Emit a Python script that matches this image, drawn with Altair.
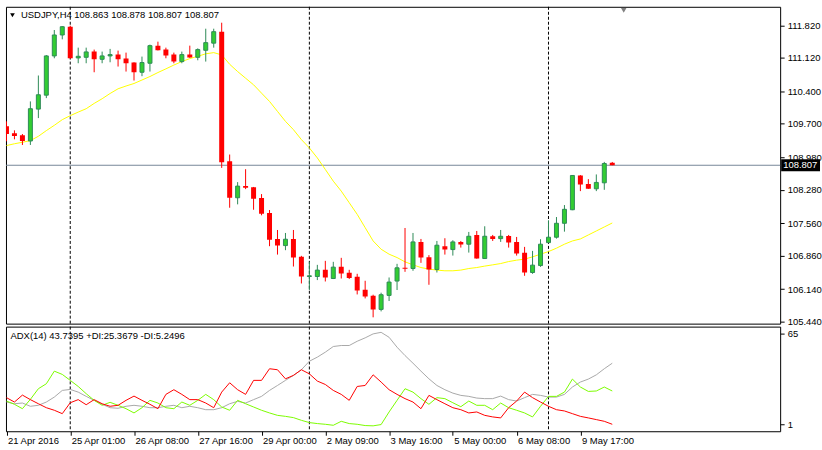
import altair as alt
import pandas as pd

# ---------------- data ----------------
bar_index = list(range(77))

opens = [109.645, 109.495, 109.452, 109.330, 110.016, 110.317, 111.162, 111.613, 111.791, 111.119,
         111.132, 111.255, 111.089, 111.162, 111.190, 111.104, 111.019, 110.810, 111.004, 111.383,
         111.298, 111.190, 111.040, 111.190, 111.132, 111.283, 111.437, 111.684, 108.894, 108.107,
         108.358, 108.336, 108.100, 107.778, 107.220, 107.077, 107.220, 106.834, 106.411, 106.411,
         106.555, 106.368, 106.619, 106.491, 106.405, 106.126, 105.997, 105.703, 106.004, 106.313,
         106.598, 106.583, 107.156, 106.828, 106.562, 107.064, 106.991, 107.156, 107.107, 107.306,
         106.798, 107.278, 107.227, 107.285, 107.156, 106.920, 106.497, 106.647, 107.141, 107.257,
         107.557, 107.849, 108.587, 108.401, 108.300, 108.429, 108.863]
highs = [109.753, 109.559, 109.480, 110.182, 110.740, 111.180, 111.720, 111.802, 111.813, 111.340,
         111.340, 111.298, 111.255, 111.313, 111.276, 111.233, 111.025, 111.147, 111.405, 111.469,
         111.340, 111.233, 111.255, 111.383, 111.325, 111.748, 111.748, 111.877, 109.038, 108.444,
         108.722, 108.340, 108.186, 107.843, 107.413, 107.349, 107.413, 106.856, 106.727, 106.662,
         106.748, 106.727, 106.813, 106.555, 106.469, 106.319, 106.019, 106.062, 106.390, 106.684,
         107.456, 107.349, 107.220, 106.871, 107.177, 107.235, 107.192, 107.177, 107.371, 107.392,
         107.493, 107.306, 107.413, 107.306, 107.263, 107.049, 106.963, 107.214, 107.622, 107.692,
         107.950, 108.595, 108.595, 108.508, 108.609, 108.879, 108.878]
lows = [109.323, 109.366, 109.244, 109.244, 109.823, 110.253, 111.111, 111.519, 111.104, 111.004,
        111.004, 110.810, 111.004, 111.025, 110.933, 110.825, 110.632, 110.725, 110.825, 111.280,
        111.111, 111.004, 111.004, 111.120, 111.068, 111.040, 111.340, 108.750, 107.892, 107.965,
        108.293, 107.849, 107.729, 107.064, 106.883, 106.978, 106.626, 106.261, 106.120, 106.334,
        106.304, 106.356, 106.368, 106.356, 106.025, 105.939, 105.532, 105.660, 105.883, 106.120,
        106.512, 106.534, 106.705, 106.233, 106.497, 106.883, 106.862, 107.034, 106.926, 106.795,
        106.795, 107.177, 107.156, 107.034, 106.862, 106.426, 106.469, 106.619, 107.138, 107.227,
        107.377, 107.840, 108.250, 108.298, 108.250, 108.278, 108.807]
closes = [109.480, 109.437, 109.330, 110.025, 110.325, 111.162, 111.613, 111.791, 111.111, 111.154,
          111.248, 111.089, 111.162, 111.190, 111.089, 111.004, 110.810, 111.019, 111.383, 111.283,
          111.169, 111.040, 111.190, 111.126, 111.298, 111.448, 111.684, 108.873, 108.107, 108.358,
          108.321, 108.085, 107.763, 107.205, 107.077, 107.214, 106.819, 106.411, 106.426, 106.549,
          106.390, 106.613, 106.476, 106.377, 106.111, 105.982, 105.703, 106.019, 106.291, 106.598,
          106.577, 107.156, 106.819, 106.562, 107.085, 106.991, 107.156, 107.098, 107.278, 106.798,
          107.278, 107.220, 107.278, 107.141, 106.905, 106.497, 106.656, 107.107, 107.257, 107.557,
          107.858, 108.587, 108.394, 108.300, 108.437, 108.845, 108.807]
ma_values = [109.231, 109.270, 109.302, 109.338, 109.431, 109.553, 109.667, 109.789, 109.875, 109.952,
             110.025, 110.139, 110.240, 110.353, 110.454, 110.514, 110.568, 110.643, 110.718, 110.804,
             110.883, 110.965, 111.040, 111.104, 111.154, 111.207, 111.233, 111.184, 110.982, 110.825,
             110.682, 110.540, 110.360, 110.182, 109.967, 109.753, 109.574, 109.360, 109.180, 108.965,
             108.716, 108.465, 108.250, 108.000, 107.750, 107.463, 107.177, 106.999, 106.892, 106.819,
             106.727, 106.662, 106.604, 106.570, 106.549, 106.534, 106.534, 106.549, 106.583, 106.604,
             106.635, 106.662, 106.690, 106.733, 106.763, 106.785, 106.834, 106.892, 106.948, 107.021,
             107.107, 107.177, 107.220, 107.306, 107.392, 107.478, 107.564]
adx = [16.9, 15.7, 16.2, 13.9, 14.6, 16.9, 20.4, 25.1, 25.8, 23.9,
       20.9, 18.1, 15.3, 12.9, 12.5, 13.9, 14.6, 13.9, 12.9, 12.9,
       13.9, 14.6, 12.9, 13.9, 12.9, 11.5, 11.5, 12.9, 15.7, 17.4,
       16.2, 18.6, 20.9, 25.1, 28.6, 32.2, 35.7, 39.7, 45.7, 48.6,
       52.1, 56.1, 56.8, 56.8, 59.8, 62.2, 65.0, 66.1, 62.6, 55.6,
       49.7, 44.3, 38.7, 33.3, 28.6, 25.6, 23.2, 21.6, 20.9, 19.7,
       19.3, 19.3, 21.1, 18.6, 17.6, 20.0, 22.3, 21.6, 20.4, 20.4,
       22.3, 27.5, 31.0, 33.1, 36.1, 40.4, 44.3]
plus_di = [17.6, 15.3, 12.2, 18.8, 26.3, 29.8, 38.7, 36.4, 32.2, 27.9,
           22.8, 18.1, 14.6, 16.7, 14.6, 12.2, 9.2, 12.9, 18.1, 16.2,
           12.9, 12.2, 16.9, 14.6, 18.1, 22.3, 18.6, 13.4, 11.1, 18.1,
           15.7, 13.4, 11.1, 9.2, 7.5, 6.8, 5.9, 4.0, 2.4, 1.7,
           1.2, 0.5, 3.3, 1.7, 1.2, 0.3, 0.1, 1.0, 9.9, 18.1,
           26.3, 23.9, 19.3, 15.3, 20.0, 19.3, 16.4, 13.6, 17.6, 14.6,
           14.6, 11.5, 16.2, 12.9, 11.1, 9.2, 6.4, 13.9, 20.9, 20.9,
           23.9, 33.1, 27.5, 24.4, 24.7, 27.5, 24.7]
minus_di = [20.0, 16.9, 21.8, 18.6, 15.7, 12.9, 11.1, 8.7, 16.4, 18.6,
            15.0, 18.6, 15.7, 13.9, 14.6, 18.1, 21.1, 18.1, 15.3, 12.2,
            22.3, 25.6, 22.3, 18.6, 18.6, 16.2, 12.9, 23.9, 30.5, 25.6,
            22.3, 32.2, 32.2, 40.4, 39.7, 33.3, 35.7, 39.7, 36.8, 31.7,
            29.3, 25.1, 22.3, 18.1, 27.9, 28.6, 36.1, 31.0, 25.6, 22.3,
            19.3, 16.9, 12.2, 21.6, 18.6, 15.7, 12.9, 11.5, 9.2, 9.9,
            7.5, 6.4, 5.7, 12.9, 17.6, 23.9, 20.0, 16.9, 13.9, 11.5,
            10.6, 8.7, 6.8, 5.7, 4.5, 3.3, 1.2]

separator_bars = [8, 38, 68]
tick_bars = [0, 8, 16, 24, 32, 40, 48, 56, 64, 72]
tick_labels = ["21 Apr 2016", "25 Apr 01:00", "26 Apr 08:00", "27 Apr 16:00", "29 Apr 00:00",
               "2 May 09:00", "3 May 16:00", "5 May 00:00", "6 May 08:00", "9 May 17:00"]
price_ticks = [111.82, 111.12, 110.40, 109.70, 108.98, 108.28, 107.56, 106.86, 106.14, 105.44]
adx_ticks = [65, 1]
last_price = 108.807
title_text = "USDJPY,H4  108.863 108.878 108.807 108.807"
adx_text = "ADX(14) 43.7395 +DI:25.3679 -DI:5.2496"

# ---------------- frames ----------------
df = pd.DataFrame({"k": bar_index, "open": opens, "high": highs, "low": lows,
                   "close": closes, "ma": ma_values, "adx": adx, "pdi": plus_di, "mdi": minus_di})
df["dir"] = ["up" if c >= o else "down" for o, c in zip(opens, closes)]
sep_df = pd.DataFrame({"k": separator_bars})
price_df = pd.DataFrame({"p": [last_price], "label": [f"{last_price:.3f}"]})

FONT = "Liberation Sans"
FS = 9.5
W, H_MAIN, H_SUB = 777, 318, 105

x_scale = alt.Scale(domain=[-0.0625, 97.0625], nice=False, zero=False, padding=0)
y_main_scale = alt.Scale(domain=[105.396, 112.220], nice=False, zero=False, padding=0)
y_sub_scale = alt.Scale(domain=[-3.71, 70.13], nice=False, zero=False, padding=0)

price_axis = alt.Axis(orient="right", values=price_ticks, format=".3f", tickSize=4,
                      tickColor="black", labelPadding=3, domain=False, grid=False, title=None,
                      labelFont=FONT, labelFontSize=FS, labelColor="black")
sub_axis = alt.Axis(orient="right", values=adx_ticks, format="d", tickSize=4,
                    tickColor="black", labelPadding=3, domain=False, grid=False, title=None,
                    labelFont=FONT, labelFontSize=FS, labelColor="black")

label_expr = " : ".join(f"datum.value == {b} ? '{t}'" for b, t in zip(tick_bars, tick_labels)) + " : ''"
time_axis = alt.Axis(values=tick_bars, labelExpr=label_expr, tickSize=4, tickColor="black",
                     labelAlign="left", labelBaseline="top", labelPadding=0, labelOffset=1,
                     domain=False, grid=False, title=None, labelFont=FONT, labelFontSize=FS,
                     labelColor="black", labelFlush=False, labelOverlap=False)

XM = alt.X("k:Q", scale=x_scale, axis=None)
XS = alt.X("k:Q", scale=x_scale, axis=time_axis)


def YM(f):
    return alt.Y(f, type="quantitative", scale=y_main_scale, axis=price_axis)


def YS(f):
    return alt.Y(f, type="quantitative", scale=y_sub_scale, axis=sub_axis)


base = alt.Chart(df)

wicks = base.mark_rule(strokeWidth=1, clip=True).encode(
    x=XM, y=YM("low"), y2="high",
    color=alt.Color("dir:N", scale=alt.Scale(domain=["up", "down"], range=["#2E8B57", "#FF0000"]), legend=None))
bodies_up = base.transform_filter("datum.dir == 'up'").mark_bar(
    size=4, fill="#32CD32", stroke="#2E8B57", strokeWidth=1, clip=True).encode(
    x=XM, y=YM("open"), y2="close")
bodies_down = base.transform_filter("datum.dir == 'down'").mark_bar(
    size=5, fill="#FF0000", clip=True).encode(
    x=XM, y=YM("open"), y2="close")
ma_line = base.mark_line(color="#FFFF00", strokeWidth=1, clip=True).encode(x=XM, y=YM("ma"))
price_line = alt.Chart(price_df).mark_rule(color="#778899", strokeWidth=1).encode(y=YM("p"))
seps_main = alt.Chart(sep_df).mark_rule(color="black", strokeDash=[3, 2], strokeWidth=1).encode(x=XM)
price_box = alt.Chart(price_df).mark_rect(color="black", clip=False, yOffset=-6, y2Offset=6).encode(
    x=alt.value(778), x2=alt.value(817), y=YM("p"), y2="p:Q")
price_box_text = alt.Chart(price_df).mark_text(
    align="left", baseline="middle", color="white", font=FONT, fontSize=FS, clip=False).encode(
    x=alt.value(780), y=YM("p"), text="label:N")
title_mark = alt.Chart(price_df).mark_text(
    align="left", baseline="middle", color="black", font=FONT, fontSize=9.5).encode(
    x=alt.value(15), y=alt.value(8), text=alt.value(title_text))
title_tri = alt.Chart(price_df).mark_point(
    shape="triangle-down", filled=True, color="black", size=22, opacity=1).encode(
    x=alt.value(6.5), y=alt.value(8.5))
shift_tri = alt.Chart(price_df).mark_point(
    shape="triangle-down", filled=True, color="#808080", size=30, opacity=1, clip=True).encode(
    x=alt.value(620), y=alt.value(3.5))

main = alt.layer(price_line, seps_main, ma_line, wicks, bodies_up, bodies_down,
                 price_box, price_box_text, title_mark, title_tri, shift_tri).properties(
    width=W, height=H_MAIN)

adx_line = base.mark_line(color="#A9A9A9", strokeWidth=1, clip=True).encode(x=XS, y=YS("adx"))
pdi_line = base.mark_line(color="#7CFC00", strokeWidth=1, clip=True).encode(x=XS, y=YS("pdi"))
mdi_line = base.mark_line(color="#FF0000", strokeWidth=1, clip=True).encode(x=XS, y=YS("mdi"))
seps_sub = alt.Chart(sep_df).mark_rule(color="black", strokeDash=[3, 2], strokeWidth=1).encode(x=XS)
adx_label = alt.Chart(price_df).mark_text(
    align="left", baseline="middle", color="black", font=FONT, fontSize=FS).encode(
    x=alt.value(4.5), y=alt.value(9), text=alt.value(adx_text))

sub = alt.layer(seps_sub, adx_line, pdi_line, mdi_line, adx_label).properties(width=W, height=H_SUB)

chart = alt.vconcat(main, sub, spacing=3, bounds="flush").properties(
    padding={"left": 5, "top": 5, "right": 0, "bottom": 0}, background="white"
).configure_view(stroke="black", strokeWidth=1)

chart.save("out.html", embed_options={"renderer": "svg", "actions": False})
